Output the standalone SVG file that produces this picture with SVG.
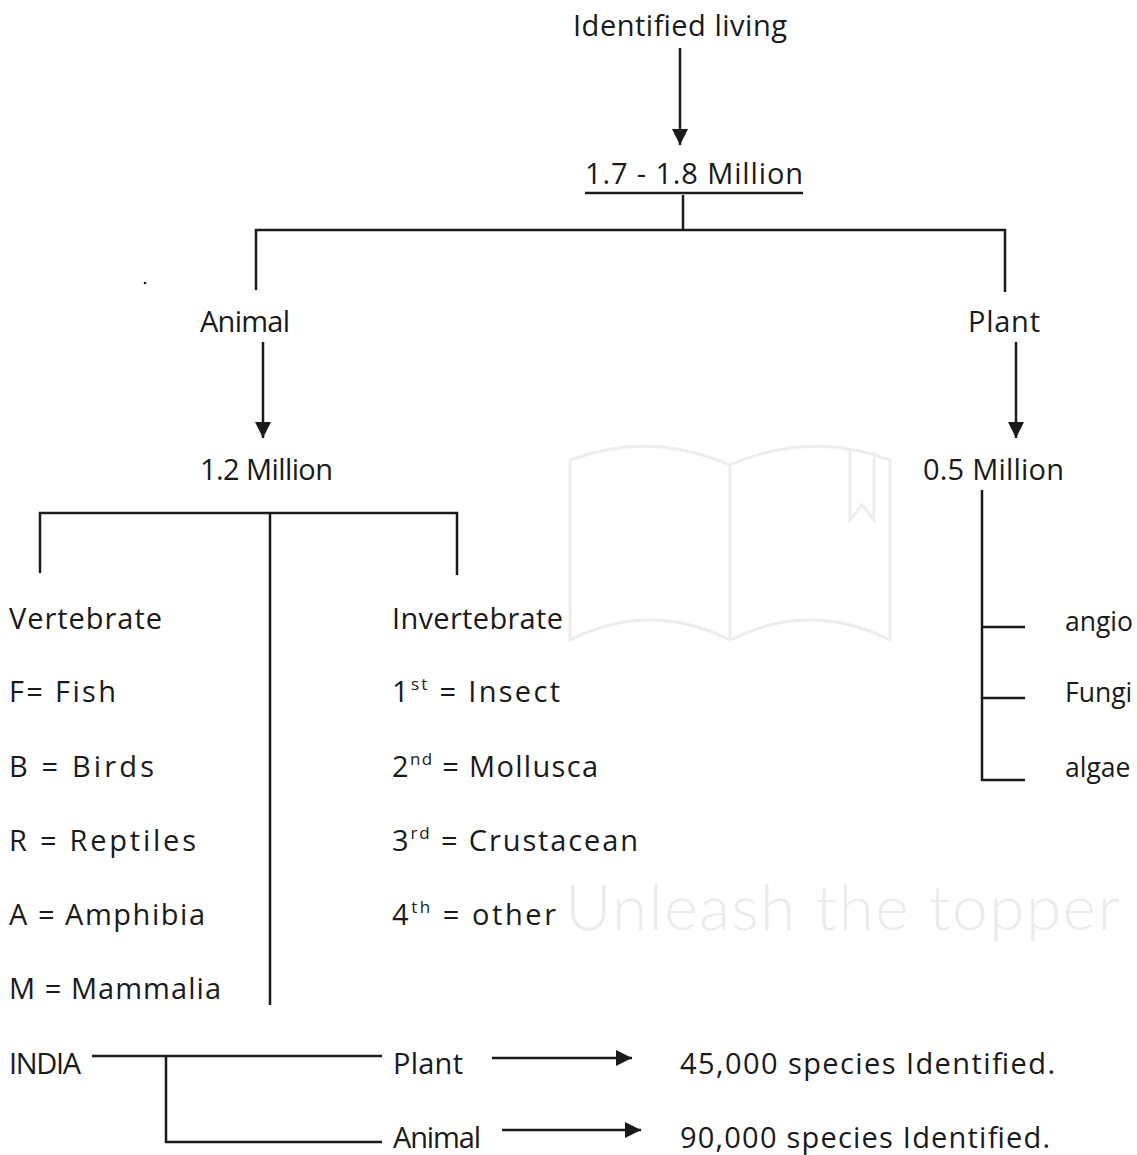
<svg xmlns="http://www.w3.org/2000/svg" width="1137" height="1155" viewBox="0 0 1137 1155">
<defs>
<marker id="ah" viewBox="0 0 10 10" refX="10" refY="5" markerWidth="16" markerHeight="16" markerUnits="userSpaceOnUse" orient="auto">
<path d="M0,0 L10,5 L0,10 Z" fill="#1a1a1a"/>
</marker>
<style>
text{font-family:"Open Sans","Noto Sans",sans-serif;font-size:29px;fill:#1a1a1a}
.wm{font-family:"Lato","Open Sans",sans-serif;font-weight:300;font-size:64px;fill:#ebebeb}
.ln{stroke:#1a1a1a;stroke-width:2.5;fill:none}
.ar{stroke:#1a1a1a;stroke-width:2.5;fill:none;marker-end:url(#ah)}
.sup{font-size:17px}
.pt{font-size:26.5px}
</style>
</defs>
<rect width="1137" height="1155" fill="#fff"/>
<g id="watermark" fill="none" stroke="#ededed" stroke-width="3">
<path d="M570,460 L570,640 Q650,600 730,640 Q810,600 890,640 L890,460 Q810,430 730,465 Q650,430 570,460 Z"/>
<path d="M730,465 L730,640"/>
<path d="M850,448 L850,520 L862,505 L874,520 L874,452"/>
<text class="wm" x="565" y="930" stroke="none" textLength="555" lengthAdjust="spacing">Unleash the topper</text>
</g>
<g id="connectors">
<line class="ar" x1="680" y1="48" x2="680" y2="145"/>
<line class="ln" x1="585" y1="193" x2="803" y2="193"/>
<polyline class="ln" points="683,195 683,230"/>
<polyline class="ln" points="256,290 256,230 1005,230 1005,292"/>
<line class="ar" x1="263" y1="342" x2="263" y2="438"/>
<line class="ar" x1="1016" y1="342" x2="1016" y2="438"/>
<polyline class="ln" points="40,573 40,513 457,513 457,575"/>
<line class="ln" x1="270" y1="513" x2="270" y2="1005"/>
<polyline class="ln" points="982,490 982,780 1025,780"/>
<line class="ln" x1="982" y1="627" x2="1025" y2="627"/>
<line class="ln" x1="982" y1="698" x2="1025" y2="698"/>
<line class="ln" x1="92" y1="1056" x2="382" y2="1056"/>
<polyline class="ln" points="166,1056 166,1142 382,1142"/>
<line class="ar" x1="492" y1="1058" x2="632" y2="1058"/>
<line class="ar" x1="502" y1="1130" x2="641" y2="1130"/>
</g>
<circle cx="145" cy="283" r="1.3" fill="#1a1a1a"/>
<g id="n-living"><text x="573" y="36" textLength="214" lengthAdjust="spacing">Identified living</text></g>
<g id="n-total"><text x="585" y="184" textLength="218" lengthAdjust="spacing">1.7 - 1.8 Million</text></g>
<g id="n-animal"><text x="200" y="332" textLength="90" lengthAdjust="spacing">Animal</text></g>
<g id="n-plant"><text x="968" y="332" textLength="72" lengthAdjust="spacing">Plant</text></g>
<g id="n-animal-count"><text x="200" y="480" textLength="133" lengthAdjust="spacing">1.2 Million</text></g>
<g id="n-plant-count"><text x="923" y="480" textLength="141" lengthAdjust="spacing">0.5 Million</text></g>
<g id="n-vertebrate">
<text x="9" y="629" textLength="153" lengthAdjust="spacing">Vertebrate</text>
<text x="9" y="702" textLength="107" lengthAdjust="spacing">F= Fish</text>
<text x="9" y="777" textLength="145" lengthAdjust="spacing">B = Birds</text>
<text x="9" y="851" textLength="187" lengthAdjust="spacing">R = Reptiles</text>
<text x="9" y="925" textLength="196" lengthAdjust="spacing">A = Amphibia</text>
<text x="9" y="999" textLength="212" lengthAdjust="spacing">M = Mammalia</text>
</g>
<g id="n-invertebrate">
<text x="392" y="629" textLength="171" lengthAdjust="spacing">Invertebrate</text>
<text x="392" y="702" textLength="168" lengthAdjust="spacing">1<tspan class="sup" dy="-12">st</tspan><tspan dy="12"> = Insect</tspan></text>
<text x="392" y="777" textLength="206" lengthAdjust="spacing">2<tspan class="sup" dy="-12">nd</tspan><tspan dy="12"> = Mollusca</tspan></text>
<text x="392" y="851" textLength="246" lengthAdjust="spacing">3<tspan class="sup" dy="-12">rd</tspan><tspan dy="12"> = Crustacean</tspan></text>
<text x="392" y="925" textLength="164" lengthAdjust="spacing">4<tspan class="sup" dy="-12">th</tspan><tspan dy="12"> = other</tspan></text>
</g>
<g id="n-plant-types">
<text class="pt" x="1065" y="631">angio</text>
<text class="pt" x="1065" y="702">Fungi</text>
<text class="pt" x="1065" y="777">algae</text>
</g>
<g id="n-india"><text x="9" y="1074" textLength="72" lengthAdjust="spacing">INDIA</text></g>
<g id="n-india-plant"><text x="393" y="1074" textLength="70" lengthAdjust="spacing">Plant</text></g>
<g id="n-india-animal"><text x="393" y="1148" textLength="88" lengthAdjust="spacing">Animal</text></g>
<g id="n-plant-species"><text x="680" y="1074" textLength="375" lengthAdjust="spacing">45,000 species Identified.</text></g>
<g id="n-animal-species"><text x="680" y="1148" textLength="370" lengthAdjust="spacing">90,000 species Identified.</text></g>
</svg>
